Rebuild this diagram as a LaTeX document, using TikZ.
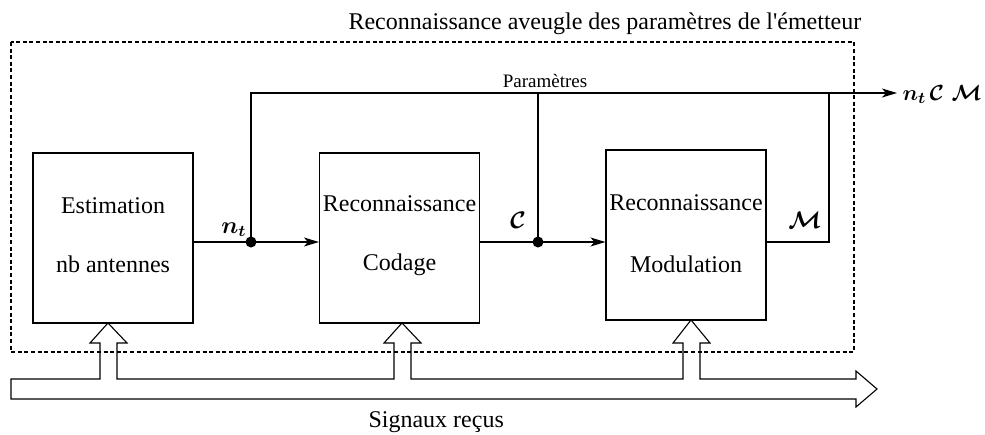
\documentclass[tikz,border=0pt]{standalone}
\usepackage{amsmath}
\usepackage{fontspec}
\setmainfont{Liberation Serif}
\usetikzlibrary{arrows.meta}
\begin{document}
\begin{tikzpicture}[x=0.5pt,y=-0.5pt, line width=0.55pt,
  every node/.style={font=\rmfamily\fontsize{12}{14}\selectfont, inner sep=0pt},
  blk/.style={draw, minimum width=80pt, minimum height=85pt},
  arr/.style={-{Stealth[length=7.5pt,width=4.5pt,inset=2pt]}},
  junc/.style={circle, fill, minimum size=5.5pt},
  frame/.style={draw, dash pattern=on 2pt off 1.3pt},
  small/.style={font=\rmfamily\fontsize{9.5}{11}\selectfont},
  outlbl/.style={anchor=base west, font=\rmfamily\fontsize{11}{13}\selectfont}]
\useasboundingbox (0,0) rectangle (985,434);

% dashed frame and title
\draw[frame] (11,42) rectangle (854,352);
\node[anchor=base west] (title) at (348,29) {Reconnaissance aveugle des paramètres de l\textquotesingle émetteur};

% blocks
\node[blk] (b1) at (113,238) {};
\node[blk] (b2) at (399.5,238) {};
\node[blk] (b3) at (686,235) {};
\node[anchor=base] (t1a) at (113,213) {Estimation};
\node[anchor=base] (t1b) at (113,272) {nb antennes};
\node[anchor=base] (t2a) at (399.5,211) {Reconnaissance};
\node[anchor=base] (t2b) at (399.5,270) {Codage};
\node[anchor=base] (t3a) at (686,210) {Reconnaissance};
\node[anchor=base] (t3b) at (686,272) {Modulation};

% junctions and wires
\node[junc] (j1) at (251,242) {};
\node[junc] (j2) at (538,242) {};
\coordinate (out) at (897,93);
\coordinate (mc) at (829,242);
\draw (j1 -| b1.east) -- (j1.center);
\draw[arr] (j1.center) -- (j1 -| b2.west);
\draw (j2 -| b2.east) -- (j2.center);
\draw[arr] (j2.center) -- (j2 -| b3.west);
\draw[arr] (j1.center) |- (out);
\draw (j2.center) -- (j2 |- out);
\draw (b3.east |- mc) -- (mc) -- (mc |- out);

% labels
\node[anchor=base] (lnt) at (234,233) {$\boldsymbol{n_t}$};
\node[anchor=base] (lc) at (518,228) {$\boldsymbol{\mathcal{C}}$};
\node[anchor=base] (lm) at (805,228) {$\boldsymbol{\mathcal{M}}$};
\node[small, anchor=base] (lpar) at (545,87) {Paramètres};
\node[outlbl] (lout1) at (902,100) {$\boldsymbol{n_t}$};
\node[outlbl] (lout2) at (929,100) {$\boldsymbol{\mathcal{C}}$};
\node[outlbl] (lout3) at (951,100) {$\boldsymbol{\mathcal{M}}$};

% received-signal hollow arrow
\draw[line join=miter] (11,379) -- (100,379) -- (100,343) -- (90,343) -- (108,323) -- (127,343) -- (117,343) -- (117,379)
  -- (394,379) -- (394,343) -- (384,343) -- (402,323) -- (421,343) -- (411,343) -- (411,379)
  -- (683,379) -- (683,343) -- (673,343) -- (691,320) -- (710,343) -- (700,343) -- (700,379)
  -- (856,379) -- (856,371) -- (877,389) -- (856,407) -- (856,399) -- (11,399) -- cycle;
\node[anchor=base west] (lsig) at (368,427) {Signaux reçus};
\end{tikzpicture}
\end{document}
